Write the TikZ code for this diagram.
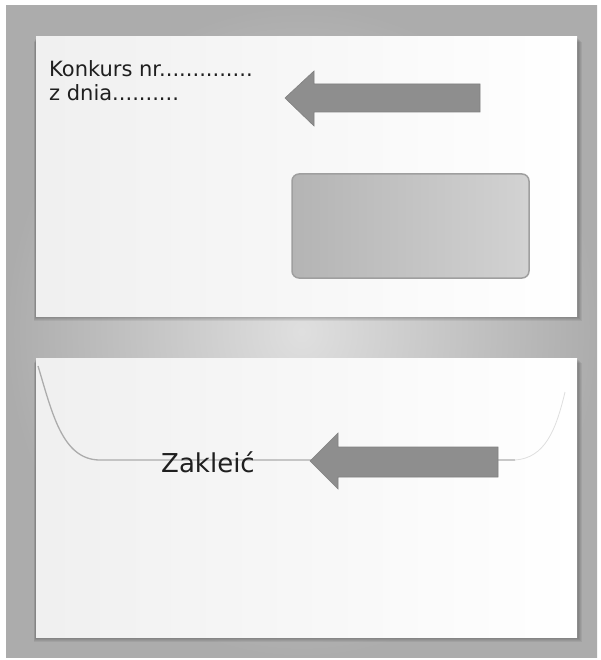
\documentclass[tikz,border=0pt]{standalone}
\usepackage{fontspec}
\setmainfont{DejaVu Sans}

\definecolor{arrowgray}{HTML}{8E8E8E}
\definecolor{windowgray}{HTML}{B4B4B4}

\tikzset{
  envelope/.style={left color=gray!12, right color=white},
  signarrow/.style={fill=arrowgray, draw=arrowgray!90!black, line width=0.6pt},
  window/.style={draw=gray!75, line width=1.5pt, rounded corners=7pt,
    left color=windowgray, right color=gray!35},
  flap/.style={draw=gray!65, line width=1.3pt},
  label/.style={inner sep=0pt, text=black!88}
}

\begin{document}
\begin{tikzpicture}[x=1pt, y=-1pt]
\useasboundingbox (0,0) rectangle (601,660);

% background
\fill[white] (0,0) rectangle (601,660);
\shade[inner color=gray!25, outer color=gray!65] (6,6) rectangle (597,657);

% shadows under the envelopes
\foreach \d in {1,2,...,5} {
    \fill[black, opacity=0.06] (36-\d/2,37+\d) rectangle (577+\d,316+\d);
    \fill[black, opacity=0.06] (36-\d/2,358+\d) rectangle (577+\d,637+\d);
}

% front of the envelope
\shade[envelope] (36,37) rectangle (577,316);
\node[label, anchor=base west, font=\fontsize{21}{24}\selectfont] (konkurs) at (49,77) {Konkurs nr..............};
\node[label, anchor=base west, font=\fontsize{21}{24}\selectfont] (zdnia) at (49,101) {z dnia..........};
\draw[signarrow] (285,98) -- (314,71) -- (314,84) -- (480,84) -- (480,112) -- (314,112) -- (314,126) -- cycle;
\draw[window] (292,174) rectangle (529,278);

% back of the envelope
\shade[envelope] (36,358) rectangle (577,637);
\draw[flap] (38,366) .. controls (52,412) and (62,460) .. (100,460) -- (515,460);
\draw[draw=gray!25, line width=0.8pt] (515,460) .. controls (545,458) and (556,430) .. (565,392);
\draw[signarrow] (310,461) -- (338,433) -- (338,447) -- (498,447) -- (498,477) -- (338,477) -- (338,489) -- cycle;
\node[label, anchor=base, font=\fontsize{26}{30}\selectfont] (zaklej) at (208,472) {Zakleić};

\end{tikzpicture}
\end{document}
